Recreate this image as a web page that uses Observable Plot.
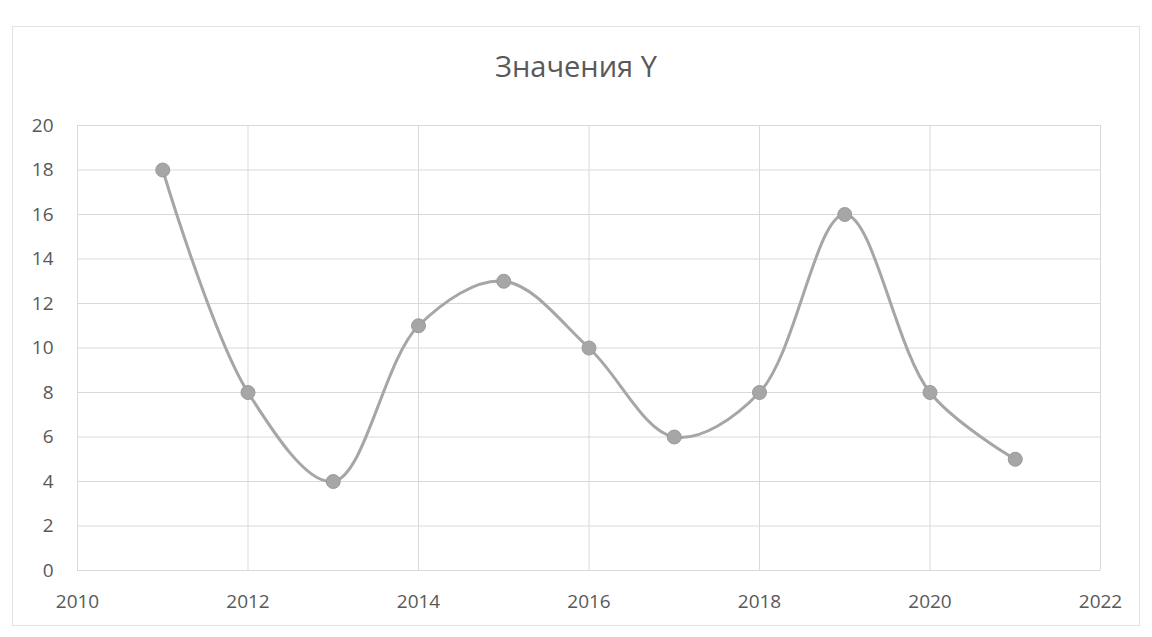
<!DOCTYPE html>
<html>
<head>
<meta charset="utf-8">
<script src="https://cdn.jsdelivr.net/npm/d3@7"></script>
<script src="https://cdn.jsdelivr.net/npm/@observablehq/plot@0.6"></script>
<style>
  html, body { margin: 0; padding: 0; background: #ffffff; }
  body { width: 1152px; height: 637px; position: relative; overflow: hidden; font-family: "Open Sans", sans-serif; }
  #frame { position: absolute; left: 12px; top: 26px; width: 1128px; height: 600px; border: 1px solid #e2e2e2; box-sizing: border-box; }
  #title { position: absolute; left: 0; top: 46px; width: 1152px; text-align: center; font-size: 29px; line-height: 40px; color: #595959; font-family: "Open Sans", sans-serif; }
  #chart { position: absolute; left: 0; top: 95px; }
</style>
</head>
<body>
<div id="frame"></div>
<div id="title">Значения Y</div>
<div id="chart"></div>
<script>
const years = [2011, 2012, 2013, 2014, 2015, 2016, 2017, 2018, 2019, 2020, 2021];
const values = [18, 8, 4, 11, 13, 10, 6, 8, 16, 8, 5];
const xTicks = [2010, 2012, 2014, 2016, 2018, 2020, 2022];
const yTicks = [0, 2, 4, 6, 8, 10, 12, 14, 16, 18, 20];

const data = years.map((x, i) => ({x, y: values[i]}));
const gray = "#a6a6a6";
const textColor = "#595959";

const chart = Plot.plot({
  width: 1152,
  height: 542,
  marginLeft: 77,
  marginRight: 52,
  marginTop: 30,
  marginBottom: 67,
  style: { fontFamily: "'Open Sans', sans-serif", fontSize: "19px", color: textColor, background: "transparent" },
  x: { domain: [2010, 2022], ticks: xTicks, tickFormat: d3.format("d"), label: null },
  y: { domain: [0, 20], ticks: yTicks, label: null },
  marks: [
    Plot.gridX(xTicks, { stroke: "#d9d9d9", strokeOpacity: 1, strokeWidth: 1 }),
    Plot.gridY(yTicks, { stroke: "#d9d9d9", strokeOpacity: 1, strokeWidth: 1 }),
    Plot.axisX(xTicks, { tickSize: 0, tickPadding: 24, tickFormat: d3.format("d"), fill: textColor, fontSize: 19 }),
    Plot.axisY(yTicks, { tickSize: 0, tickPadding: 24, fill: textColor, fontSize: 19 }),
    Plot.line(data, { x: "x", y: "y", stroke: gray, strokeWidth: 3, curve: "catmull-rom" }),
    Plot.dot(data, { x: "x", y: "y", r: 7, fill: gray, stroke: "#9a9a9a", strokeWidth: 1 })
  ]
});
document.getElementById("chart").appendChild(chart);
</script>
</body>
</html>
